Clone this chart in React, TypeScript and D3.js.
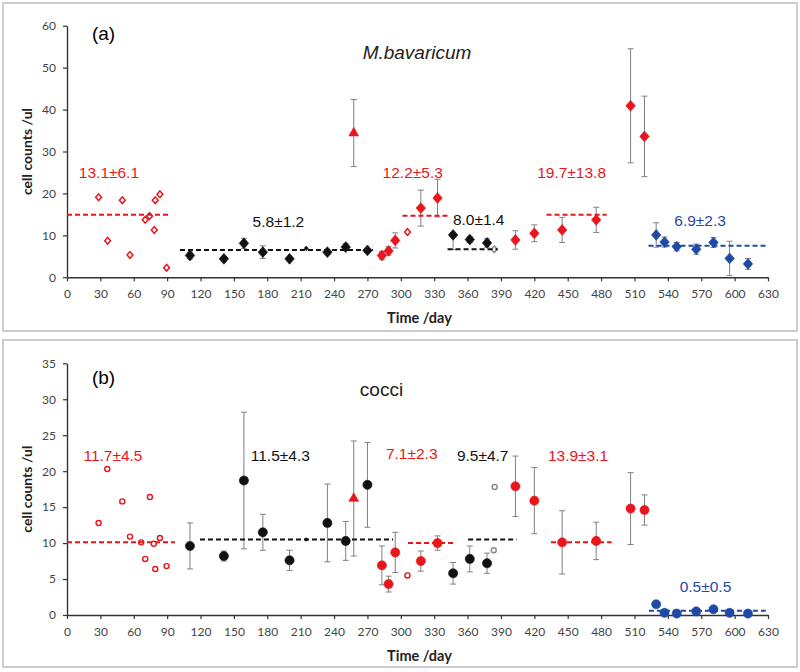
import { useEffect, useRef } from 'react';
import * as d3 from 'd3';

// [day, value, error below, error above]
type Pt = [number, number, number?, number?];

const dayTicks = [0, 30, 60, 90, 120, 150, 180, 210, 240, 270, 300, 330, 360, 390, 420, 450, 480, 510, 540, 570, 600, 630];
const aValueTicks = [0, 10, 20, 30, 40, 50, 60];
const bValueTicks = [0, 5, 10, 15, 20, 25, 30, 35];

// ---- panel (a) M.bavaricum ----
const aOpenRed: Pt[] = [[28.4, 19.1], [36.5, 8.7], [49.7, 18.4], [56.6, 5.3], [70.3, 13.7], [74.2, 14.6], [79.3, 18.4], [83.5, 19.8], [78.4, 11.3], [89.5, 2.3], [306, 10.8]];
const aBlack: Pt[] = [[110.5, 5.2, 0.8, 0.8], [141, 4.4, 0.5, 0.5], [159, 8.1, 1.2, 1.2], [176, 6.0, 1.5, 1.5], [200, 4.4, 0.4, 0.4], [234, 6.0, 0.6, 0.6], [250.5, 7.2, 0.8, 0.8], [270, 6.4, 0.5, 0.5], [347, 10.1, 3.5, 0], [362, 9.0, 0.7, 0.7], [377.5, 8.2, 1, 1]];
const aBlackTiny: Pt[] = [[215, 6.9]];
const aTriangle: Pt[] = [[257.7, 34.4, 8, 8]];
const aRed: Pt[] = [[283, 5.2, 0.9, 0.9], [289, 6.3, 1, 1], [295, 8.8, 1.8, 1.8], [318, 16.5, 4.3, 4.3], [333, 18.9, 4.5, 4.5], [403, 8.9, 2.2, 2.2], [420, 10.5, 2, 2], [445, 11.3, 3, 3], [475.6, 13.7, 3, 3], [506.5, 40.9, 13.6, 13.6], [519, 33.6, 9.6, 9.6]];
const aOpenGray: Pt[] = [[384, 6.7]];
const aBlue: Pt[] = [[529.5, 10.1, 2.9, 2.9], [537, 8.4, 1.2, 1.2], [548, 7.3, 1, 1], [565.5, 6.7, 1.2, 1.2], [581, 8.3, 1.2, 1.2], [595.5, 4.5, 4.1, 4.1], [612, 3.2, 1.3, 1.3]];
// [from day, to day, mean, colour key]
const aMeans: [number, number, number, string][] = [[0, 92.5, 14.9, 'red'], [101.5, 275, 6.5, 'black'], [301.5, 342, 14.7, 'red'], [342, 387, 6.7, 'black'], [431, 485, 14.9, 'red'], [522.6, 628, 7.5, 'blue']];
const aLabels: [string, number, number, string][] = [['13.1±6.1', 37.7, 24.9, 'red'], ['5.8±1.2', 190, 13.2, 'black'], ['12.2±5.3', 310.7, 25.1, 'red'], ['8.0±1.4', 370, 13.7, 'black'], ['19.7±13.8', 453.5, 24.9, 'red'], ['6.9±2.3', 569, 13.5, 'blue']];

// ---- panel (b) cocci ----
const bOpenRed: Pt[] = [[28.4, 12.8], [36.2, 20.3], [49.7, 15.8], [56.6, 10.9], [66.7, 10.1], [70.3, 7.8], [74.5, 16.4], [78, 9.9], [79.3, 6.4], [83.5, 10.7], [89.5, 6.8], [306, 5.5]];
const bBlack: Pt[] = [[110.5, 9.6, 3.2, 3.2], [141, 8.2, 0.7, 0.7], [159, 18.7, 9.5, 9.5], [176, 11.5, 2.5, 2.5], [200, 7.6, 1.4, 1.4], [234, 12.8, 5.4, 5.4], [250.5, 10.3, 2.7, 2.7], [270, 18.1, 5.9, 5.9], [347, 5.8, 1.5, 1.5], [362, 7.8, 1.8, 1.8], [377.5, 7.2, 1.4, 1.4]];
const bBlackTiny: Pt[] = [[215, 10.5]];
const bTriangle: Pt[] = [[257.7, 16.2, 8, 8]];
const bRed: Pt[] = [[283, 6.9, 2.7, 2.7], [289, 4.3, 1.1, 1.1], [295, 8.7, 2.8, 2.8], [318, 7.5, 1.4, 1.4], [333, 10.0, 1.0, 1.0], [403, 17.9, 4.2, 4.2], [420, 15.9, 4.6, 4.6], [445, 10.1, 4.4, 4.4], [475.6, 10.3, 2.6, 2.6], [506.5, 14.8, 5.0, 5.0], [519, 14.6, 2.1, 2.1]];
const bOpenGray: Pt[] = [[383.5, 9.0], [384.3, 17.8]];
const bBlue: Pt[] = [[529.5, 1.5], [537, 0.3], [548, 0.2], [565.5, 0.5], [581, 0.8], [595.5, 0.3], [612, 0.2]];
const bMeans: [number, number, number, string][] = [[0, 97, 10.1, 'red'], [119.5, 293, 10.5, 'black'], [306.5, 347, 10.0, 'red'], [360.5, 404, 10.5, 'black'], [435, 489.5, 10.1, 'red'], [523, 628, 0.6, 'blue']];
const bLabels: [string, number, number, string][] = [['11.7±4.5', 41.3, 22.2, 'red'], ['11.5±4.3', 191.7, 22.2, 'black'], ['7.1±2.3', 309.8, 22.4, 'red'], ['9.5±4.7', 373.6, 22.2, 'black'], ['13.9±3.1', 459.3, 22.2, 'red'], ['0.5±0.5', 573.8, 4.0, 'blue']];

const colors: Record<string, string> = { red: '#e8161c', black: '#111111', blue: '#1f4aa5', gray: '#8a8a8a' };

type Layer = { pts: Pt[]; shape: 'diamond' | 'circle' | 'triangle'; color: string; open?: boolean; size?: number };

interface Panel {
    frame: [number, number];
    yMax: number;
    yRange: [number, number];
    yTicks: number[];
    tag: string;
    tagY: number;
    title: string;
    italic: boolean;
    titleX: number;
    titleY: number;
    layers: Layer[];
    means: [number, number, number, string][];
    labels: [string, number, number, string][];
}

const panels: Panel[] = [
    {
        frame: [3, 331], yMax: 60, yRange: [277.3, 25.7], yTicks: aValueTicks,
        tag: '(a)', tagY: 33, title: 'M.bavaricum', italic: true, titleX: 417, titleY: 52,
        layers: [
            { pts: aOpenRed, shape: 'diamond', color: colors.red, open: true },
            { pts: aOpenGray, shape: 'diamond', color: colors.gray, open: true },
            { pts: aBlackTiny, shape: 'diamond', color: colors.black, size: 8 },
            { pts: aBlack, shape: 'diamond', color: colors.black },
            { pts: aTriangle, shape: 'triangle', color: colors.red },
            { pts: aRed, shape: 'diamond', color: colors.red },
            { pts: aBlue, shape: 'diamond', color: colors.blue },
        ],
        means: aMeans, labels: aLabels,
    },
    {
        frame: [340, 667], yMax: 35, yRange: [615, 363.3], yTicks: bValueTicks,
        tag: '(b)', tagY: 377, title: 'cocci', italic: false, titleX: 381.5, titleY: 389,
        layers: [
            { pts: bOpenRed, shape: 'circle', color: colors.red, open: true },
            { pts: bOpenGray, shape: 'circle', color: colors.gray, open: true },
            { pts: bBlackTiny, shape: 'circle', color: colors.black, size: 8 },
            { pts: bBlack, shape: 'circle', color: colors.black },
            { pts: bTriangle, shape: 'triangle', color: colors.red },
            { pts: bRed, shape: 'circle', color: colors.red },
            { pts: bBlue, shape: 'circle', color: colors.blue },
        ],
        means: bMeans, labels: bLabels,
    },
];

function symbolFor(layer: Layer) {
    if (layer.shape === 'diamond') return d3.symbol(d3.symbolSquare, layer.size ?? (layer.open ? 17 : 44))() as string;
    if (layer.shape === 'triangle') return d3.symbol(d3.symbolTriangle, layer.size ?? 42)() as string;
    return d3.symbol(d3.symbolCircle, layer.size ?? (layer.open ? 20 : 66))() as string;
}

export default function App() {
    const svgRef = useRef<SVGSVGElement>(null);

    useEffect(() => {
        document.body.style.margin = '0';
        if (!svgRef.current) return;
        const svg = d3.select(svgRef.current);
        svg.selectAll('*').remove();

        const defs = svg.append('defs');
        defs.append('filter').attr('id', 'shadow').attr('x', '-5%').attr('y', '-200%').attr('width', '110%').attr('height', '500%')
            .append('feGaussianBlur').attr('stdDeviation', 1.3);

        const x = d3.scaleLinear().domain([0, 630]).range([67, 768]);

        panels.forEach(p => {
            const y = d3.scaleLinear().domain([0, p.yMax]).range(p.yRange);
            const g = svg.append('g');

            // panel frame
            g.append('rect')
                .attr('x', 3).attr('y', p.frame[0])
                .attr('width', 794).attr('height', p.frame[1] - p.frame[0])
                .attr('fill', 'white').attr('stroke', '#cdcdcd').attr('stroke-width', 2);

            // axes
            const xAxis = g.append('g')
                .attr('transform', `translate(0,${y(0)})`)
                .call(d3.axisBottom(x).tickValues(dayTicks).tickSize(4).tickSizeOuter(0).tickPadding(8).tickFormat(d3.format('d')));
            const yAxis = g.append('g')
                .attr('transform', `translate(${x(0)},0)`)
                .call(d3.axisLeft(y).tickValues(p.yTicks).tickSize(4).tickSizeOuter(0).tickPadding(7).tickFormat(d3.format('d')));
            [xAxis, yAxis].forEach(ax => {
                ax.select('.domain').attr('stroke', '#333').attr('stroke-width', 1.4);
                ax.selectAll('.tick line').attr('stroke', '#333').attr('stroke-width', 1.2);
                ax.selectAll('.tick text')
                    .attr('fill', '#444')
                    .style('font-family', 'Lato, "Open Sans", sans-serif')
                    .style('font-size', '12px');
            });

            // error bars
            const withErr = p.layers.flatMap(l => l.pts.filter(d => d[2] !== undefined));
            const eb = g.append('g').attr('stroke', '#808080').attr('stroke-width', 1).attr('fill', 'none');
            withErr.forEach(d => {
                const lo = d[1] - (d[2] ?? 0);
                const hi = d[1] + (d[3] ?? 0);
                const cx = x(d[0]);
                eb.append('line').attr('x1', cx).attr('x2', cx).attr('y1', y(lo)).attr('y2', y(hi));
                if ((d[2] ?? 0) > 0) eb.append('line').attr('x1', cx - 3).attr('x2', cx + 3).attr('y1', y(lo)).attr('y2', y(lo));
                if ((d[3] ?? 0) > 0) eb.append('line').attr('x1', cx - 3).attr('x2', cx + 3).attr('y1', y(hi)).attr('y2', y(hi));
            });

            // markers
            p.layers.forEach(layer => {
                const path = symbolFor(layer);
                g.append('g').selectAll('path')
                    .data(layer.pts)
                    .join('path')
                    .attr('d', path)
                    .attr('transform', d => `translate(${x(d[0])},${y(d[1])})` + (layer.shape === 'diamond' ? ' scale(1,1.15) rotate(45)' : ''))
                    .attr('fill', layer.open ? 'white' : layer.color)
                    .attr('stroke', layer.color)
                    .attr('stroke-width', layer.open ? 1.4 : 0.6);
            });

            // dashed means with a soft shadow
            const mg = g.append('g');
            mg.selectAll('line.shadow')
                .data(p.means)
                .join('line')
                .attr('class', 'shadow')
                .attr('x1', d => x(d[0])).attr('x2', d => x(d[1]))
                .attr('y1', d => y(d[2]) + 2.5).attr('y2', d => y(d[2]) + 2.5)
                .attr('stroke', '#c4c4c4').attr('stroke-width', 3)
                .attr('filter', 'url(#shadow)');
            mg.selectAll('line.mean')
                .data(p.means)
                .join('line')
                .attr('class', 'mean')
                .attr('x1', d => x(d[0])).attr('x2', d => x(d[1]))
                .attr('y1', d => y(d[2])).attr('y2', d => y(d[2]))
                .attr('stroke', d => colors[d[3]])
                .attr('stroke-width', 2)
                .attr('stroke-dasharray', '5,3');

            // mean ± sd labels
            g.append('g').selectAll('text')
                .data(p.labels)
                .join('text')
                .attr('x', d => x(d[1]))
                .attr('y', d => y(d[2]))
                .attr('text-anchor', 'middle')
                .attr('dominant-baseline', 'central')
                .attr('fill', d => colors[d[3]])
                .style('font-family', '"Liberation Sans", Arial, sans-serif')
                .style('font-size', '15.5px')
                .text(d => d[0]);

            // tag and title
            g.append('text')
                .attr('x', 103.5).attr('y', p.tagY)
                .attr('text-anchor', 'middle').attr('dominant-baseline', 'central')
                .style('font-family', '"Liberation Sans", Arial, sans-serif')
                .style('font-size', '19px')
                .text(p.tag);
            g.append('text')
                .attr('x', p.titleX).attr('y', p.titleY)
                .attr('text-anchor', 'middle').attr('dominant-baseline', 'central')
                .style('font-family', '"Liberation Sans", Arial, sans-serif')
                .style('font-style', p.italic ? 'italic' : 'normal')
                .style('font-size', '19px')
                .attr('fill', '#222')
                .text(p.title);

            // axis titles
            g.append('text')
                .attr('x', 419.5).attr('y', y(0) + 40)
                .attr('text-anchor', 'middle').attr('dominant-baseline', 'central')
                .style('font-family', 'Lato, "Open Sans", sans-serif')
                .style('font-weight', 'bold')
                .style('font-size', '14.5px')
                .attr('fill', '#222')
                .text('Time /day');
            const midY = (p.yRange[0] + p.yRange[1]) / 2;
            g.append('text')
                .attr('transform', `translate(26,${midY}) rotate(-90)`)
                .attr('text-anchor', 'middle').attr('dominant-baseline', 'central')
                .style('font-family', 'Lato, "Open Sans", sans-serif')
                .style('font-weight', 'bold')
                .style('font-size', '14px')
                .attr('fill', '#222')
                .text('cell counts /ul');
        });
    }, []);

    return <svg ref={svgRef} width={800} height={672} style={{ display: 'block', background: 'white' }}></svg>;
}
